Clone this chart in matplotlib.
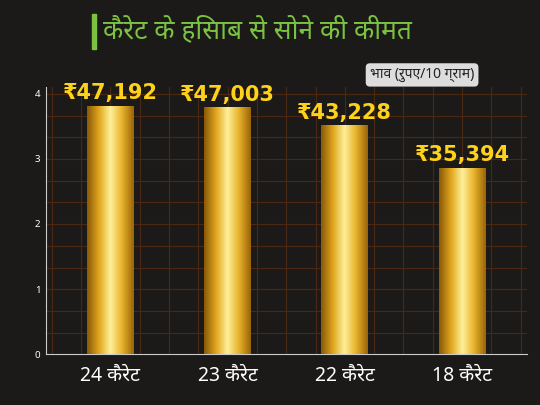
import matplotlib
matplotlib.use("Agg")
import matplotlib.pyplot as plt
import numpy as np
from matplotlib.colors import LinearSegmentedColormap

categories = ["24 कैरेट", "23 कैरेट", "22 कैरेट", "18 कैरेट"]
heights = [3.8, 3.78, 3.5, 2.85]
prices = ["₹47,192", "₹47,003", "₹43,228", "₹35,394"]
yticks = [0, 1, 2, 3, 4]

plt.rcParams['font.family'] = ['Noto Sans', 'DejaVu Sans']
bg = "#1b1a18"
fig = plt.figure(figsize=(5.4, 4.05), dpi=100, facecolor=bg)
ax = fig.add_axes([0.085, 0.125, 0.89, 0.66], facecolor=bg)

cmap = LinearSegmentedColormap.from_list("gold", ["#8a5a08", "#e0a51c", "#fff09a", "#e7b22a", "#9a6509"])
grad = np.linspace(0, 1, 100).reshape(1, -1)
x = np.arange(len(categories))
w = 0.4
for xi, h, p in zip(x, heights, prices):
    ax.imshow(grad, cmap=cmap, aspect='auto', extent=[xi - w/2, xi + w/2, 0, h], zorder=3)
    ax.text(xi, h + 0.05, p, ha='center', va='bottom', color='#ffd21a', fontsize=15,
            fontweight='bold', family=['DejaVu Sans'], zorder=4)

ax.set_yticks(yticks)
ax.set_yticklabels([str(t) for t in yticks], color='white', fontsize=7)
ax.set_xticks(x)
ax.set_xticklabels(categories, color='white', fontsize=14)
ax.tick_params(length=0, pad=8)
ax.tick_params(axis='y', pad=4)
ax.set_xticks(np.arange(-0.5, 3.6, 0.25), minor=True)
ax.set_yticks(np.arange(0, 4.1, 0.333), minor=True)
ax.grid(True, which='both', color='#4a2812', linewidth=0.8, zorder=0)
ax.tick_params(which='minor', length=0)
for s in ['top', 'right']:
    ax.spines[s].set_visible(False)
for s in ['left', 'bottom']:
    ax.spines[s].set_color('#cccccc')
ax.set_xlim(-0.55, 3.55)
ax.set_ylim(0, 4.1)

fig.patches.append(plt.Rectangle((0.17, 0.88), 0.007, 0.085, transform=fig.transFigure, color='#7cc242'))
fig.text(0.19, 0.922, "कैरेट के हिसाब से सोने की कीमत", color='#7cc242', fontsize=19, va='center')
fig.text(0.685, 0.815, "भाव (रुपए/10 ग्राम)", color='#222222', fontsize=10, va='center',
         bbox=dict(boxstyle='round,pad=0.3', fc='#dddddd', ec='none'))

fig.savefig("out.png", dpi=100, facecolor=bg)
